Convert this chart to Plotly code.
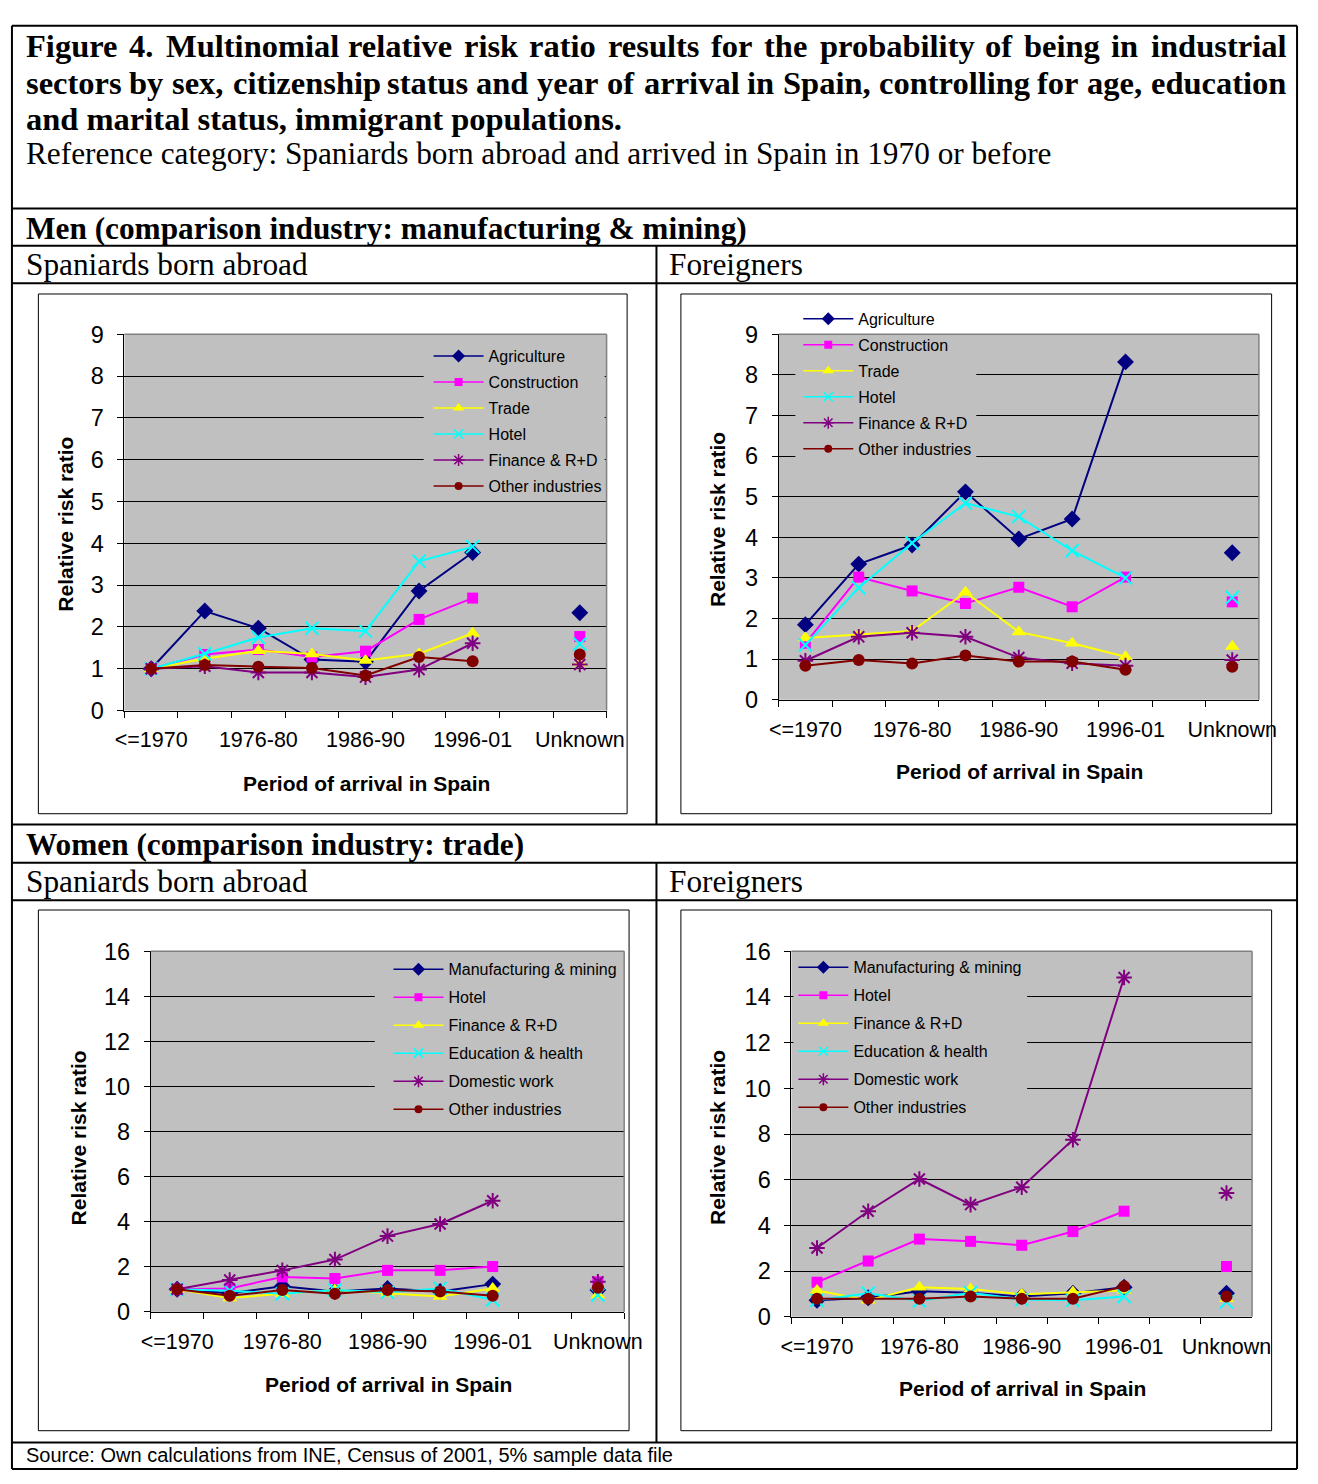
import plotly.graph_objects as go

W, H = 1318, 1484

# ---------------- data ----------------
periods = ["<=1970", "1971-75", "1976-80", "1981-85", "1986-90", "1991-95", "1996-01", " ", "Unknown"]
period_tick_text = ["<=1970", "", "1976-80", "", "1986-90", "", "1996-01", "", "Unknown"]

men_industries = ["Agriculture", "Construction", "Trade", "Hotel", "Finance & R+D", "Other industries"]
women_industries = ["Manufacturing & mining", "Hotel", "Finance & R+D", "Education & health",
                    "Domestic work", "Other industries"]

# Men, Spaniards born abroad (comparison: manufacturing & mining)
men_sba_agriculture = [1.00, 2.38, 1.97, 1.22, 1.17, 2.86, 3.78, None, 2.34]
men_sba_construction = [1.00, 1.34, 1.46, 1.28, 1.42, 2.18, 2.69, None, 1.77]
men_sba_trade = [1.00, 1.24, 1.43, 1.35, 1.20, 1.36, 1.85, None, 1.14]
men_sba_hotel = [1.00, 1.36, 1.75, 1.97, 1.90, 3.57, 3.92, None, 1.59]
men_sba_finance = [1.00, 1.06, 0.91, 0.91, 0.80, 0.98, 1.61, None, 1.10]
men_sba_other = [1.00, 1.09, 1.05, 1.02, 0.84, 1.28, 1.18, None, 1.34]

# Men, Foreigners
men_for_agriculture = [1.85, 3.34, 3.81, 5.12, 3.96, 4.45, 8.32, None, 3.62]
men_for_construction = [1.39, 3.02, 2.68, 2.37, 2.77, 2.29, 3.02, None, 2.41]
men_for_trade = [1.52, 1.60, 1.69, 2.65, 1.67, 1.39, 1.06, None, 1.31]
men_for_hotel = [1.35, 2.76, 3.86, 4.84, 4.51, 3.67, 3.00, None, 2.52]
men_for_finance = [0.96, 1.55, 1.65, 1.55, 1.04, 0.90, 0.84, None, 0.98]
men_for_other = [0.84, 0.98, 0.89, 1.09, 0.94, 0.94, 0.74, None, 0.81]

# Women, Spaniards born abroad (comparison: trade)
women_sba_manufacturing = [1.00, 0.83, 1.14, 0.90, 1.04, 0.90, 1.23, None, 0.97]
women_sba_hotel = [1.00, 1.04, 1.55, 1.48, 1.84, 1.84, 2.01, None, 1.33]
women_sba_finance = [1.00, 0.61, 0.80, 0.97, 0.83, 0.68, 1.04, None, 0.75]
women_sba_education = [1.00, 0.94, 0.80, 0.97, 0.87, 1.04, 0.54, None, 0.75]
women_sba_domestic = [1.00, 1.41, 1.84, 2.32, 3.36, 3.90, 4.93, None, 1.33]
women_sba_other = [1.00, 0.71, 0.97, 0.80, 0.97, 0.90, 0.71, None, 1.07]

# Women, Foreigners
women_for_manufacturing = [0.72, 0.83, 1.12, 1.05, 0.89, 1.03, 1.29, None, 1.03]
women_for_hotel = [1.51, 2.44, 3.40, 3.30, 3.13, 3.73, 4.62, None, 2.20]
women_for_finance = [1.15, 0.72, 1.29, 1.22, 0.98, 1.08, 1.15, None, 0.79]
women_for_education = [0.72, 1.03, 0.69, 1.05, 0.75, 0.72, 0.89, None, 0.65]
women_for_domestic = [3.01, 4.62, 6.03, 4.91, 5.67, 7.75, 14.85, None, 5.42]
women_for_other = [0.79, 0.79, 0.79, 0.89, 0.79, 0.79, 1.33, None, 0.89]

# ---------------- styling ----------------
SANS = "Liberation Sans"
SERIF = "Liberation Serif"
GRAY = "#C0C0C0"

series_styles = [
    dict(color="#000080", symbol="diamond", size=13, lsize=10, open=False),
    dict(color="#FF00FF", symbol="square", size=11, lsize=8, open=False),
    dict(color="#FFFF00", symbol="triangle-up", size=13, lsize=10, open=False),
    dict(color="#00FFFF", symbol="x-thin-open", size=13, lsize=9, open=True),
    dict(color="#800080", symbol="asterisk-open", size=13, lsize=10, open=True),
    dict(color="#800000", symbol="circle", size=12, lsize=8, open=False),
]

def px(x):
    return x / W

def py(y):
    return 1 - y / H

panels = [
    dict(ax="", names=men_industries,
         values=[men_sba_agriculture, men_sba_construction, men_sba_trade, men_sba_hotel,
                 men_sba_finance, men_sba_other],
         plot=(117, 327, 610, 710), ymax=9, dtick=1,
         legend=(428, 332), gap=2.2, cover=(423, 327, 608, 490),
         box=(29, 286, 631, 815), ytitle=(57, 520), xtitle=(365, 784)),
    dict(ax="2", names=men_industries,
         values=[men_for_agriculture, men_for_construction, men_for_trade, men_for_hotel,
                 men_for_finance, men_for_other],
         plot=(786, 327, 1277, 699), ymax=9, dtick=1,
         legend=(806, 294), gap=2.2, cover=(803, 327, 988, 460),
         box=(686, 286, 1290, 815), ytitle=(724, 516), xtitle=(1032, 772)),
    dict(ax="3", names=women_industries,
         values=[women_sba_manufacturing, women_sba_hotel, women_sba_finance, women_sba_education,
                 women_sba_domestic, women_sba_other],
         plot=(144, 955, 628, 1322), ymax=16, dtick=2,
         legend=(387, 956), gap=4.2, cover=(373, 955, 628, 1127),
         box=(29, 913, 633, 1443), ytitle=(70, 1145), xtitle=(387, 1396)),
    dict(ax="4", names=women_industries,
         values=[women_for_manufacturing, women_for_hotel, women_for_finance, women_for_education,
                 women_for_domestic, women_for_other],
         plot=(799, 955, 1270, 1327), ymax=16, dtick=2,
         legend=(801, 954), gap=4.2, cover=(801, 955, 1040, 1128),
         box=(686, 913, 1290, 1443), ytitle=(724, 1145), xtitle=(1035, 1400)),
]

fig = go.Figure()
layout = dict(
    width=W, height=H,
    margin=dict(l=0, r=0, t=0, b=0),
    paper_bgcolor="white", plot_bgcolor=GRAY,
    showlegend=True,
)
shapes = []
annotations = []

for pi, p in enumerate(panels):
    ax = p["ax"]
    xname = "x" + ax
    yname = "y" + ax
    legname = "legend" + ax
    x0, y0, x1, y1 = p["plot"]
    layout["xaxis" + ax] = dict(
        domain=[px(x0), px(x1)], anchor=yname, type="category",
        categoryorder="array", categoryarray=periods,
        tickmode="array", tickvals=periods, ticktext=period_tick_text,
        tickson="boundaries", ticks="outside", ticklen=6, tickcolor="black",
        tickangle=0,
        showline=True, linecolor="black", linewidth=1,
        showgrid=False, zeroline=False, range=[-0.5, 8.5],
        tickfont=dict(family=SANS, size=21.5, color="black"), ticklabelstandoff=10,
    )
    layout["yaxis" + ax] = dict(
        domain=[py(y1), py(y0)], anchor=xname, range=[0, p["ymax"]],
        tick0=0, dtick=p["dtick"], ticks="outside", ticklen=6, tickcolor="black",
        showline=True, linecolor="black", linewidth=1,
        showgrid=True, gridcolor="black", gridwidth=1, zeroline=False,
        tickfont=dict(family=SANS, size=23.5, color="black"), ticklabelstandoff=9,
    )
    lx, ly = p["legend"]
    layout[legname] = dict(
        x=px(lx), y=py(ly), xanchor="left", yanchor="top",
        bgcolor="rgba(0,0,0,0)", borderwidth=0, itemwidth=50,
        traceorder="grouped", tracegroupgap=p["gap"],
        font=dict(family=SANS, size=16, color="black"),
        itemclick=False, itemdoubleclick=False,
    )
    for si, (name, vals) in enumerate(zip(p["names"], p["values"])):
        st = series_styles[si]
        group = f"p{pi}s{si}"
        # data series
        fig.add_trace(go.Scatter(
            x=periods, y=vals, mode="lines+markers", name=name,
            xaxis=xname, yaxis=yname, legend=legname, legendgroup=group,
            showlegend=False, connectgaps=False, cliponaxis=False,
            line=dict(color=st["color"], width=2),
            marker=dict(symbol=st["symbol"], size=st["size"], color=st["color"],
                        line=dict(color=st["color"], width=2 if st["open"] else 0)),
        ))
        # legend key (smaller marker, as in the original legend)
        fig.add_trace(go.Scatter(
            x=[None], y=[None], mode="lines+markers", name=name,
            xaxis=xname, yaxis=yname, legend=legname, legendgroup=group,
            showlegend=True, hoverinfo="skip",
            line=dict(color=st["color"], width=1.5),
            marker=dict(symbol=st["symbol"], size=st["lsize"], color=st["color"],
                        line=dict(color=st["color"], width=1.5 if st["open"] else 0)),
        ))
    # grey patch hiding gridlines behind legend
    cx0, cy0, cx1, cy1 = p["cover"]
    shapes.append(dict(type="rect", xref="paper", yref="paper", layer="above",
                       x0=px(cx0), x1=px(cx1), y0=py(cy1), y1=py(min(cy0, y0)),
                       fillcolor=GRAY, line=dict(width=0)))
    # plot area border (top & right, grey)
    shapes.append(dict(type="line", xref="paper", yref="paper", layer="above",
                       x0=px(x0), x1=px(x1), y0=py(y0), y1=py(y0),
                       line=dict(color="#808080", width=1.5)))
    shapes.append(dict(type="line", xref="paper", yref="paper", layer="above",
                       x0=px(x1), x1=px(x1), y0=py(y0), y1=py(y1),
                       line=dict(color="#808080", width=1.5)))
    # chart area box
    bx0, by0, bx1, by1 = p["box"]
    shapes.append(dict(type="rect", xref="paper", yref="paper", layer="below",
                       x0=px(bx0), x1=px(bx1), y0=py(by1), y1=py(by0),
                       line=dict(color="black", width=1), fillcolor="rgba(0,0,0,0)"))
    # axis titles
    tx, ty = p["ytitle"]
    annotations.append(dict(text="<b>Relative risk ratio</b>", x=px(tx), y=py(ty),
                            xref="paper", yref="paper", showarrow=False, textangle=-90,
                            xanchor="center", yanchor="middle",
                            font=dict(family=SANS, size=21, color="black")))
    tx, ty = p["xtitle"]
    annotations.append(dict(text="<b>Period of arrival in Spain</b>", x=px(tx), y=py(ty),
                            xref="paper", yref="paper", showarrow=False,
                            xanchor="center", yanchor="middle",
                            font=dict(family=SANS, size=21, color="black")))

# ---------------- table frame ----------------
def hline(y, xa=2, xb=1316, w=2):
    shapes.append(dict(type="line", xref="paper", yref="paper", x0=px(xa), x1=px(xb),
                       y0=py(y), y1=py(y), line=dict(color="black", width=w)))

def vline(x, ya, yb, w=2):
    shapes.append(dict(type="line", xref="paper", yref="paper", x0=px(x), x1=px(x),
                       y0=py(ya), y1=py(yb), line=dict(color="black", width=w)))

hline(13)
hline(1482)
vline(2, 13, 1482)
vline(1316, 13, 1482)
for yy in [199, 237, 275, 826, 865, 903, 1455]:
    hline(yy)
vline(661, 237, 826)
vline(661, 865, 1455)

def text(t, x, y, size, family=SERIF, bold=False):
    annotations.append(dict(text=f"<b>{t}</b>" if bold else t, x=px(x), y=py(y),
                            xref="paper", yref="paper", showarrow=False,
                            xanchor="left", yanchor="middle",
                            font=dict(family=family, size=size, color="black")))

# Times/Liberation Serif Bold advance widths (per 1000 em) for justified title lines
BOLD_W = {
    " ": 250, ",": 250, ".": 250, "4": 500,
    "F": 611, "M": 944, "S": 556,
    "a": 500, "b": 556, "c": 444, "d": 556, "e": 444, "f": 333, "g": 500, "h": 556,
    "i": 278, "j": 333, "k": 556, "l": 278, "m": 833, "n": 556, "o": 500, "p": 556,
    "q": 556, "r": 444, "s": 389, "t": 333, "u": 556, "v": 500, "w": 722, "x": 500,
    "y": 500, "z": 444,
}

def justified(line, x_left, x_right, y, size):
    words = line.split(" ")
    widths = [sum(BOLD_W.get(c, 500) for c in w) / 1000 * size for w in words]
    gap = (x_right - x_left - sum(widths)) / (len(words) - 1)
    x = x_left
    for w, wd in zip(words, widths):
        text(w, x, y, size, bold=True)
        x += wd + gap

TITLE_SIZE = 32.5
title_lines = [
    "Figure 4. Multinomial relative risk ratio results for the probability of being in industrial",
    "sectors by sex, citizenship status and year of arrival in Spain, controlling for age, education",
    "and marital status, immigrant populations.",
]
justified(title_lines[0], 14, 1300, 34, TITLE_SIZE)
justified(title_lines[1], 14, 1300, 71, TITLE_SIZE)
text(title_lines[2], 14, 108, TITLE_SIZE, bold=True)
text("Reference category: Spaniards born abroad and arrived in Spain in 1970 or before", 14, 143, 31.3)
text("Men (comparison industry: manufacturing & mining)", 14, 219, 31.3, bold=True)
text("Spaniards born abroad", 14, 256, 31.3)
text("Foreigners", 672, 256, 31.3)
text("Women (comparison industry: trade)", 14, 846, 31.3, bold=True)
text("Spaniards born abroad", 14, 884, 31.3)
text("Foreigners", 672, 884, 31.3)
text("Source: Own calculations from INE, Census of 2001, 5% sample data file", 14, 1468, 20, family=SANS)

layout["shapes"] = shapes
layout["annotations"] = annotations
fig.update_layout(**layout)

fig.write_html(
    "out.html",
    config={"displayModeBar": False},
    post_script="document.body.style.margin='0';document.body.style.overflow='hidden';",
)
